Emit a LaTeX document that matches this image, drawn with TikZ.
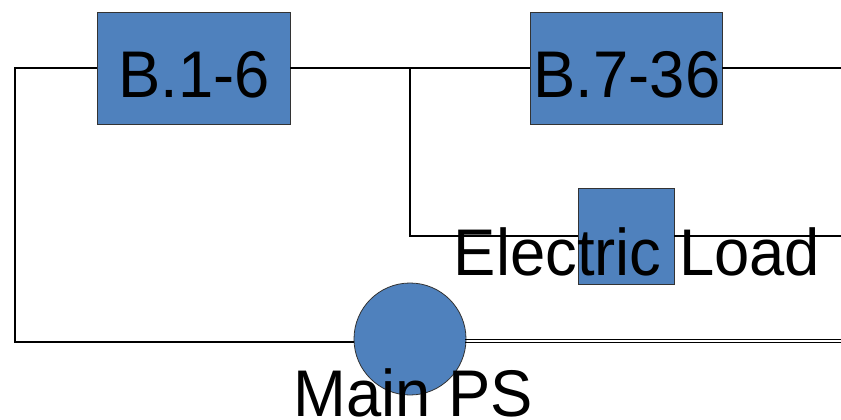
\documentclass[tikz,border=0pt]{standalone}
\usepackage{fontspec}
\setmainfont[FakeStretch=0.96]{Liberation Sans}
\begin{document}
\begin{tikzpicture}[x=1pt,y=-1pt,
  blk/.style={draw=black!80, line width=0.8pt, fill=boxblue, inner sep=0pt},
  lbl/.style={anchor=base, inner sep=0pt, font=\fontsize{66}{66}\selectfont},
  wire/.style={draw=black, line width=1.2pt}]
\definecolor{boxblue}{HTML}{4F81BD}
\useasboundingbox (0,0) rectangle (841,420);
% blocks
\node[blk, minimum width=193pt, minimum height=112pt] (b1) at (193.5,68) {};
\node[blk, minimum width=192pt, minimum height=112pt] (b7) at (626,68) {};
\node[blk, minimum width=96pt, minimum height=96pt] (el) at (626,236) {};
\node[blk, circle, minimum size=112pt] (ps) at (410,339) {};
% corner coordinates
\coordinate (tl) at (15,68);
\coordinate (bl) at (15,342);
\coordinate (tj) at (410,68);
\coordinate (ej) at (410,236);
\coordinate (r1) at (841,68);
\coordinate (r2) at (841,236);
\coordinate (r3a) at (841,339.8);
\coordinate (r3b) at (841,342.6);
% wires
\draw[wire] (b1.west) -- (tl) -- (bl) -- (ps.west |- bl);
\draw[wire] (b1.east) -- (b7.west);
\draw[wire] (b7.east) -- (r1);
\draw[wire] (tj) -- (ej) -- (el.west);
\draw[wire] (el.east) -- (r2);
\draw[wire] (ps.east |- r3a) ++(-1,0) -- (r3a);
\draw[wire] (ps.east |- r3b) ++(-1,0) -- (r3b);
% labels
\node[lbl] (t1) at (194,98) {B.1-6};
\node[lbl] (t7) at (627,98) {B.7-36};
\node[lbl] (tel) at (637,275) {Electric Load};
\node[lbl] (tps) at (413,416) {Main PS};
\end{tikzpicture}
\end{document}
